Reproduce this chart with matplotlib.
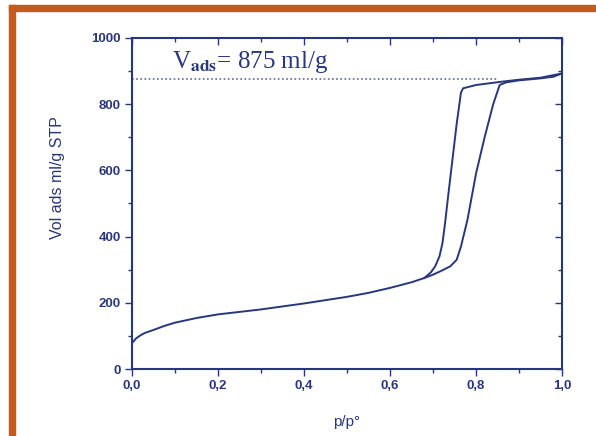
import matplotlib
matplotlib.use('Agg')
import matplotlib.pyplot as plt
from matplotlib.ticker import MultipleLocator, FuncFormatter
from matplotlib.patches import Rectangle

plt.rcParams['mathtext.fontset'] = 'stix'

# adsorption branch (lower, goes up at higher p/p0)
ads_p = [0.0, 0.005, 0.01, 0.02, 0.03, 0.05, 0.075, 0.1, 0.15, 0.2, 0.3, 0.4, 0.5, 0.55,
         0.6, 0.65, 0.68, 0.7, 0.72, 0.74, 0.755, 0.765, 0.78, 0.80, 0.82, 0.84, 0.855,
         0.87, 0.9, 0.95, 0.98, 1.0]
ads_v = [78, 86, 93, 102, 109, 118, 130, 140, 154, 165, 180, 198, 218, 230,
         245, 262, 275, 285, 297, 310, 330, 370, 450, 590, 700, 800, 858,
         866, 872, 878, 883, 893]

# desorption branch (upper, comes down at lower p/p0)
des_p = [1.0, 0.95, 0.9, 0.86, 0.80, 0.77, 0.765, 0.755, 0.745, 0.735, 0.728,
         0.722, 0.715, 0.705, 0.695, 0.68]
des_v = [893, 880, 874, 868, 858, 848, 835, 740, 630, 520, 440,
         380, 340, 310, 292, 275]

v_ads = 875
blue = '#28377d'

fig = plt.figure(figsize=(5.96, 4.36), dpi=100)
ax = fig.add_axes([132 / 596, 1 - 369 / 436, 430 / 596, 331 / 436])

# orange frame on top and left
fig.patches.append(Rectangle((9 / 596, 0), 6 / 596, 1 - 5 / 436, transform=fig.transFigure,
                             color='#c45a1c', zorder=0))
fig.patches.append(Rectangle((9 / 596, 1 - 11 / 436), 1, 6 / 436, transform=fig.transFigure,
                             color='#c45a1c', zorder=0))

ax.plot(ads_p, ads_v, color=blue, lw=1.4)
ax.plot(des_p, des_v, color=blue, lw=1.4)
ax.hlines(v_ads, 0, 0.85, colors='#5b6aa0', linestyles=(0, (1, 1.5)), lw=1.2)

ax.text(0.092, 909, r'V$_{\mathbf{ads}}$= 875 ml/g', family='Liberation Serif',
        fontsize=18, color=blue, va='baseline')

ax.set_xlim(0, 1.0)
ax.set_ylim(0, 1000)
ax.xaxis.set_major_locator(MultipleLocator(0.2))
ax.xaxis.set_minor_locator(MultipleLocator(0.1))
ax.yaxis.set_major_locator(MultipleLocator(200))
ax.yaxis.set_minor_locator(MultipleLocator(100))
ax.xaxis.set_major_formatter(FuncFormatter(lambda v, p: ('%.1f' % v).replace('.', ',')))

for s in ax.spines.values():
    s.set_color(blue)
    s.set_linewidth(1.5)

ax.tick_params(which='both', colors=blue, width=1.0, direction='out')
ax.tick_params(which='major', length=5, pad=3)
ax.tick_params(which='minor', length=3)
for lab in ax.get_xticklabels() + ax.get_yticklabels():
    lab.set_family('Liberation Sans')
    lab.set_fontweight('bold')
    lab.set_fontsize(9.5)

# mirrored ticks pointing inward on top and right
top = ax.secondary_xaxis('top')
right = ax.secondary_yaxis('right')
for sec in (top, right):
    sec.spines[:].set_visible(False)
    sec.tick_params(which='both', colors=blue, direction='in', width=1.0, labelsize=0)
    sec.tick_params(which='major', length=5)
    sec.tick_params(which='minor', length=3)
top.xaxis.set_major_locator(MultipleLocator(0.2))
top.xaxis.set_minor_locator(MultipleLocator(0.1))
top.set_xticklabels([])
right.yaxis.set_major_locator(MultipleLocator(200))
right.yaxis.set_minor_locator(MultipleLocator(100))
right.set_yticklabels([])

ax.set_ylabel('Vol ads ml/g STP', color=blue, fontsize=11.5, family='Liberation Sans')
ax.set_xlabel('p/p°', color=blue, fontsize=11, family='Liberation Sans')
ax.yaxis.set_label_coords(-0.156, 0.577)
ax.xaxis.set_label_coords(0.5, -0.14)

fig.savefig('out.png', dpi=100)
